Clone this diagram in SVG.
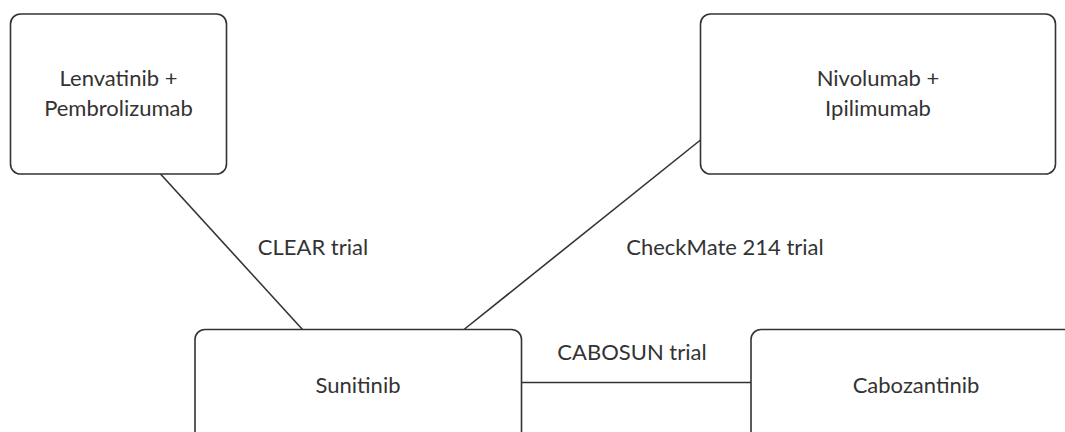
<svg xmlns="http://www.w3.org/2000/svg" width="1065" height="432" viewBox="0 0 1065 432">
<style>
.box{fill:#fff;stroke:#333;stroke-width:1.6}
.lbl{font-family:Lato,"Liberation Sans",sans-serif;font-size:22px;fill:#333;text-anchor:middle}
.edge{stroke:#333;stroke-width:1.6;fill:none}
</style>
<rect width="1065" height="432" fill="#fff"/>
<g id="connectors">
<line class="edge" x1="160.5" y1="174" x2="302.5" y2="329.5"/>
<line class="edge" x1="464" y1="329.5" x2="700.5" y2="140"/>
<line class="edge" x1="521.5" y1="382.5" x2="751" y2="382.5"/>
<text class="lbl" x="313" y="255">CLEAR trial</text>
<text class="lbl" x="725" y="255">CheckMate 214 trial</text>
<text class="lbl" x="632" y="360">CABOSUN trial</text>
</g>
<g id="lenvatinib">
<rect class="box" x="10.5" y="14" width="216" height="160" rx="10"/>
<text class="lbl" x="118.5" y="86">Lenvatinib +</text>
<text class="lbl" x="118.5" y="116">Pembrolizumab</text>
</g>
<g id="nivolumab">
<rect class="box" x="700.5" y="14" width="355" height="160" rx="10"/>
<text class="lbl" x="878" y="86">Nivolumab +</text>
<text class="lbl" x="878" y="116">Ipilimumab</text>
</g>
<g id="sunitinib">
<rect class="box" x="195" y="329.5" width="326.5" height="160" rx="10"/>
<text class="lbl" x="358" y="393">Sunitinib</text>
</g>
<g id="cabozantinib">
<rect class="box" x="751" y="329.5" width="330" height="160" rx="10"/>
<text class="lbl" x="916" y="393">Cabozantinib</text>
</g>
</svg>
